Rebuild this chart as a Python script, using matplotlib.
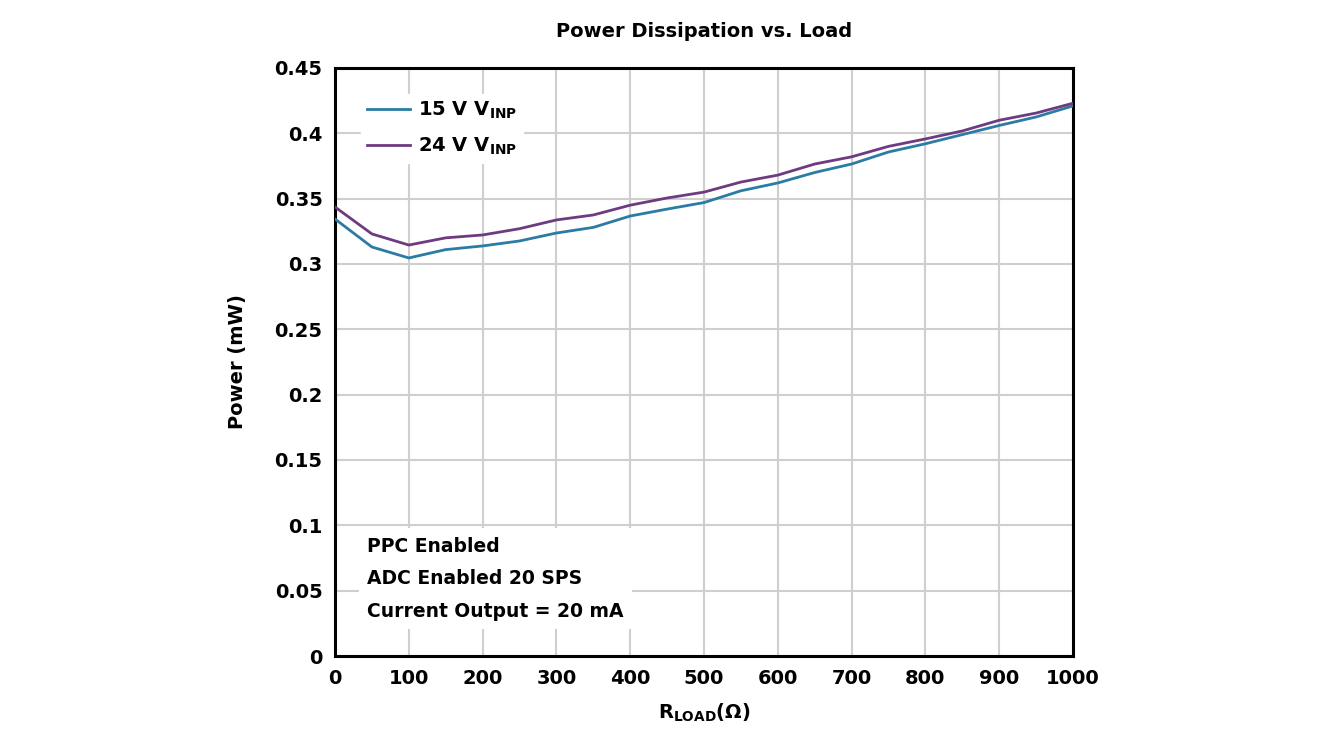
import matplotlib
matplotlib.use("Agg")
import matplotlib.pyplot as plt
import numpy as np

r_load = [0, 50, 100, 150, 200, 250, 300, 350, 400, 450, 500, 550, 600, 650, 700, 750, 800, 850, 900, 950, 1000]
p_15v = [0.3344, 0.313, 0.3046, 0.311, 0.3138, 0.3176, 0.3237, 0.328, 0.3367, 0.342, 0.347, 0.356, 0.362, 0.370, 0.3765, 0.3857, 0.392, 0.399, 0.406, 0.4125, 0.421]
p_24v = [0.3436, 0.323, 0.3145, 0.320, 0.3222, 0.327, 0.3337, 0.3375, 0.345, 0.3505, 0.355, 0.3627, 0.368, 0.3765, 0.382, 0.390, 0.3957, 0.4018, 0.410, 0.4155, 0.423]
labels = ["15 V V$_{\\mathbf{INP}}$", "24 V V$_{\\mathbf{INP}}$"]
x_ticks = list(range(0, 1001, 100))
y_ticks = [0, 0.05, 0.1, 0.15, 0.2, 0.25, 0.3, 0.35, 0.4, 0.45]
y_tick_labels = ["0", "0.05", "0.1", "0.15", "0.2", "0.25", "0.3", "0.35", "0.4", "0.45"]
note = "PPC Enabled\nADC Enabled 20 SPS\nCurrent Output = 20 mA"

plt.rcParams['font.family'] = ['DejaVu Sans']
plt.rcParams['font.weight'] = 'bold'
plt.rcParams['mathtext.fontset'] = 'dejavusans'

fig = plt.figure(figsize=(13.2, 7.42), dpi=100)
ax = fig.add_axes([0.2538, 0.1159, 0.5591, 0.7925])

c15 = "#2B7BA5"
c24 = "#6E3B80"
ax.plot(r_load, p_15v, color=c15, lw=2.0, label=labels[0], zorder=3)
ax.plot(r_load, p_24v, color=c24, lw=2.0, label=labels[1], zorder=3)

ax.set_xlim(0, 1000)
ax.set_ylim(0, 0.45)
ax.set_xticks(x_ticks)
ax.set_yticks(y_ticks)
ax.set_yticklabels(y_tick_labels)
ax.grid(True, color="#cfcfcf", lw=1.5, zorder=0)
ax.tick_params(length=0, labelsize=14, pad=9)
for lab in ax.get_xticklabels() + ax.get_yticklabels():
    lab.set_fontweight('bold')
for s in ax.spines.values():
    s.set_linewidth(2.2)
    s.set_color("black")

ax.set_title("Power Dissipation vs. Load", fontsize=14, fontweight='bold', pad=22)
ax.set_ylabel("Power (mW)", fontsize=14, fontweight='bold', labelpad=20)
ax.set_xlabel("R$_{\\mathbf{LOAD}}$(Ω)", fontsize=14, fontweight='bold', labelpad=10)

leg = ax.legend(loc="upper left", bbox_to_anchor=(0.022, 0.972), frameon=True, fontsize=14,
                handlelength=2.2, handletextpad=0.45, labelspacing=0.75, borderpad=0.3)
leg.get_frame().set_edgecolor("white")
leg.get_frame().set_facecolor("white")
leg.get_frame().set_alpha(1)
for t in leg.get_texts():
    t.set_fontweight('bold')

ax.text(0.044, 0.203, note, transform=ax.transAxes, fontsize=13.5, fontweight='bold',
        va="top", ha="left", linespacing=1.92,
        bbox=dict(facecolor="white", edgecolor="none", pad=6), zorder=4)

fig.savefig("out.png", dpi=100, facecolor="white")
